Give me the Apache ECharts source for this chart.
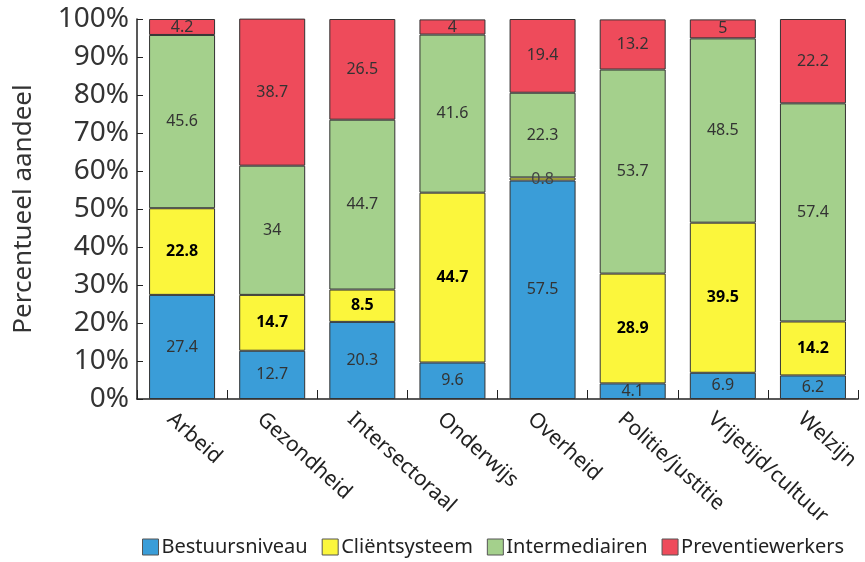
<!DOCTYPE html>
<html><head><meta charset="utf-8">
<script src="https://cdn.jsdelivr.net/npm/echarts@6/dist/echarts.min.js"></script>
<style>html,body{margin:0;padding:0;background:#fff;}#c{width:865px;height:562px;}</style>
</head><body><div id="c"></div>
<script>
var categories = ['Arbeid','Gezondheid','Intersectoraal','Onderwijs','Overheid','Politie/justitie','Vrijetijd/cultuur','Welzijn'];
var bestuursniveau = [27.4, 12.7, 20.3, 9.6, 57.5, 4.1, 6.9, 6.2];
var clientsysteem = [22.8, 14.7, 8.5, 44.7, 0.8, 28.9, 39.5, 14.2];
var intermediairen = [45.6, 34, 44.7, 41.6, 22.3, 53.7, 48.5, 57.4];
var preventiewerkers = [4.2, 38.7, 26.5, 4, 19.4, 13.2, 5, 22.2];
var seriesNames = ['Bestuursniveau','Cliëntsysteem','Intermediairen','Preventiewerkers'];
var colors = ['#3a9dd8','#fbf63c','#a4d08c','#ee4b5b'];
var yTicks = [0,10,20,30,40,50,60,70,80,90,100];

var font = 'Noto Sans';
function mk(name, data, color, bold) {
  return {
    name: name, type: 'bar', stack: 'a', barWidth: 66,
    data: data.map(function (v) {
      // very thin segments keep a plain grey label, as in the reference
      return v < 2 ? {value: v, label: {fontWeight: 'normal', color: '#444'}} : v;
    }),
    itemStyle: {color: color, borderColor: '#333', borderWidth: 1},
    label: {show: true, position: 'inside', color: bold ? '#000' : '#333', fontSize: 16,
      fontFamily: font, fontWeight: bold ? 'bold' : 'normal'}
  };
}
var chart = echarts.init(document.getElementById('c'));
chart.setOption({
  animation: false,
  color: colors,
  textStyle: {fontFamily: font},
  grid: {left: 137, right: 7, top: 19, bottom: 163, containLabel: false},
  legend: {
    bottom: 5, left: 142, width: 723, itemWidth: 16, itemHeight: 16, itemGap: 14,
    icon: 'rect', padding: 0,
    itemStyle: {borderColor: '#555', borderWidth: 1},
    textStyle: {fontSize: 20, color: '#222', fontFamily: font, padding: [0, 0, 0, -2]},
    data: seriesNames
  },
  xAxis: {
    type: 'category', data: categories,
    axisLine: {lineStyle: {color: '#222', width: 1.5}},
    axisTick: {show: true, inside: true, length: 9, lineStyle: {color: '#222'}},
    axisLabel: {rotate: -42, fontSize: 21, color: '#222', fontFamily: font, margin: 28,
      padding: [0, 0, 0, -16], interval: 0}
  },
  yAxis: {
    type: 'value', min: 0, max: 100, interval: 10,
    name: 'Percentueel aandeel', nameLocation: 'middle', nameGap: 100, nameRotate: 90,
    nameTextStyle: {fontSize: 26, color: '#333', fontFamily: font},
    axisLine: {show: true, lineStyle: {color: '#222', width: 1.5}},
    axisTick: {show: true, inside: true, length: 6, lineStyle: {color: '#222'}},
    splitLine: {show: false},
    axisLabel: {fontSize: 28, color: '#333', fontFamily: font, margin: 8,
      formatter: function(v){ return yTicks.indexOf(v) >= 0 ? v + '%' : ''; }}
  },
  series: [
    mk(seriesNames[0], bestuursniveau, colors[0], false),
    mk(seriesNames[1], clientsysteem, colors[1], true),
    mk(seriesNames[2], intermediairen, colors[2], false),
    mk(seriesNames[3], preventiewerkers, colors[3], false)
  ]
});
</script></body></html>
